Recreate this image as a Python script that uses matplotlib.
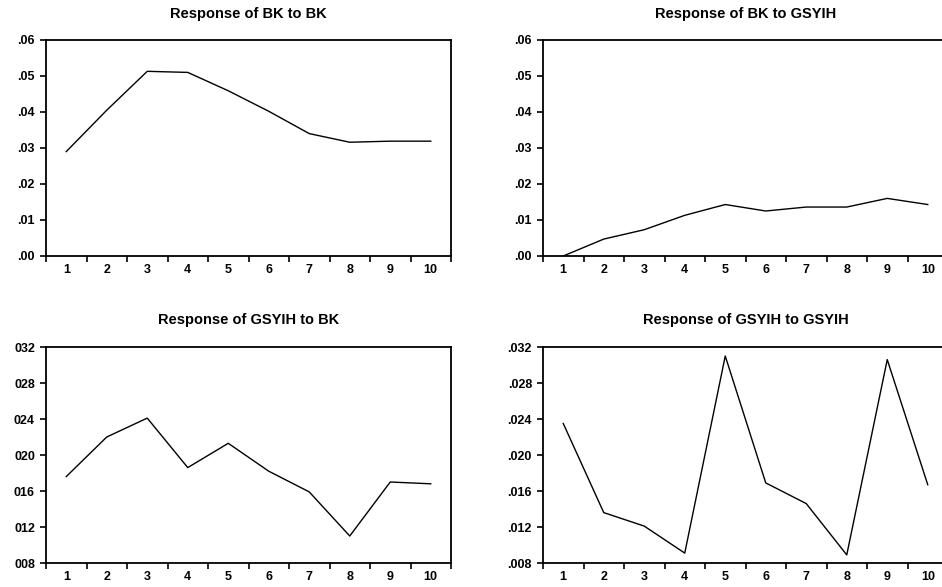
import matplotlib
matplotlib.use('Agg')
import matplotlib.pyplot as plt
import numpy as np

# periods
periods = list(range(1, 11))

# impulse responses
bk_to_bk = [0.0290, 0.0405, 0.0513, 0.0510, 0.0459, 0.0402, 0.0340, 0.0316, 0.0319, 0.0319]
bk_to_gsyih = [0.0000, 0.0047, 0.0073, 0.0113, 0.0143, 0.0125, 0.0136, 0.0136, 0.0160, 0.0143]
gsyih_to_bk = [0.0176, 0.0220, 0.0241, 0.0186, 0.0213, 0.0182, 0.0159, 0.0110, 0.0170, 0.0168]
gsyih_to_gsyih = [0.0235, 0.0136, 0.0121, 0.0091, 0.0310, 0.0169, 0.0146, 0.0089, 0.0306, 0.0167]

titles = ["Response of BK to BK", "Response of BK to GSYIH",
          "Response of GSYIH to BK", "Response of GSYIH to GSYIH"]

top_ticks = [0.00, 0.01, 0.02, 0.03, 0.04, 0.05, 0.06]
top_labels = [".00", ".01", ".02", ".03", ".04", ".05", ".06"]
bottom_ticks = [0.008, 0.012, 0.016, 0.020, 0.024, 0.028, 0.032]
bottom_labels_left = ["008", "012", "016", "020", "024", "028", "032"]
bottom_labels_right = [".008", ".012", ".016", ".020", ".024", ".028", ".032"]

plt.rcParams['font.family'] = ['Liberation Sans', 'DejaVu Sans']

fig = plt.figure(figsize=(9.42, 5.87), dpi=100)

W, H = 942.0, 587.0
boxes = [(46, 40), (543, 40), (46, 347), (543, 347)]  # left, top in px
aw, ah = 405, 216

series = [bk_to_bk, bk_to_gsyih, gsyih_to_bk, gsyih_to_gsyih]
yticks = [top_ticks, top_ticks, bottom_ticks, bottom_ticks]
ylabels = [top_labels, top_labels, bottom_labels_left, bottom_labels_right]
ylims = [(0, 0.06), (0, 0.06), (0.008, 0.032), (0.008, 0.032)]

for i in range(4):
    left, top = boxes[i]
    ax = fig.add_axes([left / W, 1 - (top + ah) / H, aw / W, ah / H])
    ax.plot(periods, series[i], color='black', linewidth=1.0)
    ax.set_xlim(0.5, 10.5)
    ax.set_ylim(*ylims[i])

    # category boundaries get tick marks, centres get labels
    ax.set_xticks(np.arange(0.5, 11, 1.0))
    ax.set_xticklabels([])
    ax.set_xticks(periods, minor=True)
    ax.set_xticklabels([str(p) for p in periods], minor=True,
                       fontsize=9, fontweight='bold')
    ax.tick_params(axis='x', which='major', direction='out', length=4, width=1.2)
    ax.tick_params(axis='x', which='minor', length=0, pad=6)

    ax.set_yticks(yticks[i])
    ax.set_yticklabels(ylabels[i], fontsize=9, fontweight='bold')
    ax.tick_params(axis='y', direction='out', length=4, width=1.2, pad=4)

    for sp in ax.spines.values():
        sp.set_linewidth(1.3)
        sp.set_color('black')

    title_y = top - (26 if top < 100 else 27)
    fig.text((left + aw / 2) / W, 1 - title_y / H, titles[i],
             ha='center', va='center', fontsize=10.5, fontweight='bold')

fig.savefig('out.png', dpi=100)
plt.close(fig)
